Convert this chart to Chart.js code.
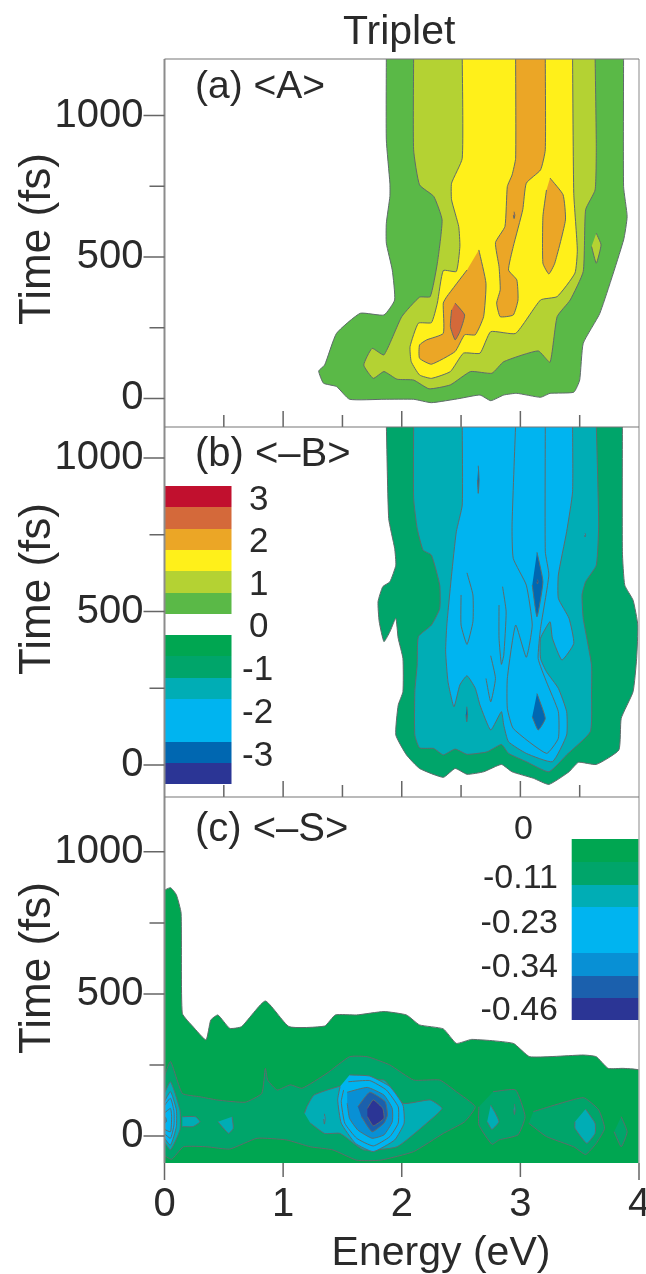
<!DOCTYPE html>
<html>
<head>
<meta charset="utf-8">
<title>Triplet</title>
<script src="https://cdn.jsdelivr.net/npm/chart.js@4/dist/chart.umd.min.js"></script>
<style>
    html, body { margin: 0; padding: 0; background: #fff; }
    canvas { position: absolute; left: 0; top: 0; }
</style>
</head>
<body>
<canvas id="panelA" width="646" height="1274"></canvas>
<canvas id="panelB" width="646" height="1274"></canvas>
<canvas id="panelC" width="646" height="1274"></canvas>
<script>
// Ticks (energy in eV, time in fs)
const energyTicks = [0, 0.5, 1, 1.5, 2, 2.5, 3, 3.5, 4];
const energyLabels = [0, 1, 2, 3, 4];
const timeTicks = [0, 250, 500, 750, 1000];
const timeLabels = [0, 500, 1000];

// Level values of the two colour bars
const levelsB = ['3', '2', '1', '0', '-1', '-2', '-3'];
const levelsC = ['0', '-0.11', '-0.23', '-0.34', '-0.46'];

// Colours per contour level
const warmColors = ['#c1102e', '#d4693a', '#eba626', '#fff01a', '#b4d233', '#5ab947'];
const coldColors = ['#00a651', '#00a56a', '#00adb5', '#00b4f0', '#00b4f0', '#0067b1', '#2b3595'];
const entropyColors = ['#00a651', '#00a56a', '#00adb5', '#00b4f0', '#00b4f0', '#0890d5', '#1b60ad', '#2b3595'];

// ---- (a) <A> contours, [energy, time] ----
const a0 = [[1.87,1210],[1.87,914],[1.9,761],[1.9,714],[1.87,619],[1.87,549],[1.92,454],[1.94,348],[1.85,295],[1.65,301],[1.45,230],[1.35,118],[1.3,97],[1.34,54],[1.45,42],[1.56,-3],[1.85,-3],[2.1,-3],[2.25,-15],[2.49,0],[2.66,12],[2.75,-8],[2.86,12],[2.97,18],[3.17,4],[3.25,18],[3.45,22],[3.5,65],[3.53,195],[3.67,301],[3.87,560],[3.9,643],[3.87,749],[3.87,1210]];
const a1 = [[2.1,1210],[2.1,879],[2.15,755],[2.27,714],[2.34,631],[2.3,478],[2.24,360],[2.15,358],[2,289],[1.85,154],[1.75,177],[1.68,118],[1.76,71],[1.85,95],[1.96,68],[2.1,65],[2.23,34],[2.41,48],[2.58,95],[2.76,89],[2.86,130],[3.15,168],[3.25,128],[3.31,289],[3.42,348],[3.53,449],[3.55,667],[3.63,737],[3.64,890],[3.63,1210]];
const a1Spot = [[3.64,584],[3.68,543],[3.64,478],[3.6,537]];
const a2 = [[2.51,1210],[2.51,849],[2.42,761],[2.42,702],[2.48,608],[2.49,537],[2.46,449],[2.35,452],[2.3,337],[2.25,268],[2.14,266],[2.07,183],[2.08,130],[2.15,83],[2.25,71],[2.41,95],[2.52,160],[2.66,160],[2.75,236],[2.96,230],[3.17,348],[3.31,360],[3.46,443],[3.48,525],[3.45,725],[3.44,1210]];
const a3Left = [[2.65,525],[2.71,407],[2.69,289],[2.62,225],[2.53,225],[2.45,166],[2.25,121],[2.15,142],[2.15,189],[2.21,207],[2.35,230],[2.35,337],[2.38,360],[2.55,454]];
const a3Mid = [[2.96,1210],[2.96,849],[2.93,790],[2.89,749],[2.87,608],[2.79,551],[2.82,466],[2.83,384],[2.8,337],[2.83,289],[2.94,295],[2.98,348],[2.97,419],[2.9,454],[2.94,537],[3.02,667],[3.05,761],[3.17,808],[3.21,879],[3.21,1210]];
const a3Right = [[3.25,779],[3.36,720],[3.38,631],[3.29,478],[3.24,440],[3.19,478],[3.19,643],[3.22,737]];
const a4 = [[2.45,337],[2.53,295],[2.49,236],[2.45,207],[2.41,254],[2.42,313]];
const a4Dot = [[2.947,660],[2.953,648],[2.947,636],[2.941,648]];

// ---- (b) <-B> contours ----
const b0 = [[1.87,1110],[1.89,803],[1.94,706],[1.95,651],[1.9,597],[1.84,581],[1.8,532],[1.81,467],[1.85,402],[1.9,434],[1.95,478],[1.97,413],[2.01,347],[2.01,239],[1.97,195],[1.95,98],[2.04,33],[2.15,-11],[2.35,-40],[2.45,-11],[2.55,-30],[2.69,-22],[2.84,2],[2.93,-22],[3.11,-43],[3.24,-63],[3.41,-22],[3.49,9],[3.64,2],[3.83,49],[3.85,152],[3.95,239],[3.98,347],[3.99,456],[3.95,537],[3.88,586],[3.86,695],[3.86,1110]];
const b1 = [[2.1,1110],[2.1,869],[2.13,771],[2.18,700],[2.25,684],[2.32,586],[2.32,510],[2.25,456],[2.14,418],[2.13,326],[2.11,239],[2.11,98],[2.15,56],[2.27,54],[2.35,33],[2.45,52],[2.55,35],[2.72,43],[2.84,67],[2.9,38],[3.05,11],[3.24,-22],[3.39,33],[3.59,109],[3.6,239],[3.6,326],[3.53,478],[3.52,554],[3.55,597],[3.64,651],[3.66,782],[3.64,1110]];
const b1Dot = [[3.545,755],[3.55,749],[3.545,743],[3.54,749]];
const b2 = [[2.51,1110],[2.51,847],[2.46,760],[2.42,619],[2.38,456],[2.37,369],[2.39,271],[2.44,190],[2.49,261],[2.55,291],[2.62,250],[2.66,195],[2.75,114],[2.84,174],[2.86,130],[2.9,76],[3.05,38],[3.27,11],[3.39,98],[3.39,174],[3.32,250],[3.22,304],[3.17,347],[3.17,413],[3.25,467],[3.27,413],[3.35,342],[3.45,396],[3.41,478],[3.32,543],[3.32,619],[3.39,760],[3.44,890],[3.44,1110]];
const b3 = [[2.96,1110],[2.93,782],[2.94,673],[3.05,586],[3.1,456],[3.05,351],[2.96,456],[2.89,282],[2.89,185],[2.94,119],[3.22,38],[3.32,87],[3.32,174],[3.22,271],[3.15,347],[3.17,445],[3.24,619],[3.21,695],[3.21,1110]];
const b3Oval = [[2.55,626],[2.6,554],[2.6,467],[2.55,393],[2.5,456],[2.5,554]];
const b3Thin = [[2.85,581],[2.88,499],[2.86,358],[2.84,328],[2.82,413],[2.82,521]];
const b3Low = [[2.75,356],[2.79,282],[2.75,206],[2.71,282]];
const b4Sliver = [[2.645,975],[2.652,928],[2.645,885],[2.638,928]];
const b4Nick = [[2.548,190],[2.555,165],[2.548,141],[2.541,165]];
const b4Upper = [[3.14,693],[3.19,597],[3.14,483],[3.1,586]];
const b4Lower = [[3.14,233],[3.21,152],[3.15,114],[3.1,157]];
const b5Dot = [[3.144,604],[3.149,597],[3.144,590],[3.139,597]];

// ---- (c) <-S> contours ----
const c0 = [[-0.03,-120],[-0.03,854],[0.05,874],[0.1,849],[0.14,784],[0.15,432],[0.24,385],[0.35,338],[0.39,408],[0.45,426],[0.55,379],[0.65,385],[0.85,475],[1.05,385],[1.35,387],[1.44,426],[1.62,426],[1.85,438],[2.04,426],[2.15,391],[2.35,377],[2.46,326],[2.59,340],[2.94,326],[3.08,279],[3.53,285],[3.64,279],[3.74,238],[3.87,238],[4.03,227],[4.03,-120]];
const c1 = [[-0.03,174],[0.05,262],[0.15,150],[0.3,138],[0.44,127],[0.68,119],[0.82,150],[0.85,238],[0.87,197],[0.95,162],[1.06,180],[1.16,168],[1.37,221],[1.56,279],[1.71,279],[1.9,250],[2.1,197],[2.32,197],[2.46,156],[2.62,103],[2.53,50],[2.35,9],[2.1,-55],[1.82,-85],[1.62,-85],[1.42,-49],[1.23,-38],[1.03,-14],[0.78,-8],[0.55,-46],[0.36,-38],[0.16,-38],[0.06,-82],[-0.03,-61]];
const c1Mid = [[2.77,156],[2.96,162],[3.04,68],[2.98,4],[2.82,-14],[2.76,-29],[2.65,39],[2.65,103]];
const c1Right = [[3.11,86],[3.53,135],[3.66,92],[3.71,27],[3.64,-26],[3.55,-65],[3.45,-38],[3.22,-2],[3.07,45]];
const c1Edge = [[3.85,68],[3.9,15],[3.85,-38],[3.79,15]];
const c2Left = [[-0.03,121],[0.05,191],[0.13,92],[0.13,21],[0.05,-49],[-0.03,-2]];
const c2Tail = [[0.15,68],[0.26,68],[0.3,50],[0.24,33],[0.15,33]];
const c2Diamond = [[0.57,68],[0.58,27],[0.54,9],[0.45,50]];
const c2Main = [[1.18,80],[1.2,103],[1.26,144],[1.47,174],[1.85,197],[2.01,115],[2.24,127],[2.34,97],[2.21,45],[1.96,-38],[1.68,-49],[1.48,9],[1.35,9],[1.23,45]];
const c2Mid = [[2.75,109],[2.79,80],[2.82,50],[2.76,23],[2.72,50]];
const c2Right = [[3.55,95],[3.63,45],[3.63,9],[3.56,-26],[3.46,27],[3.46,50]];
const c2Nick = [[1.348,78],[1.354,60],[1.348,42],[1.342,60]];
const c1Nick = [[2.95,112],[2.956,94],[2.95,76],[2.944,94]];
const c3Main = [[1.56,215],[1.73,211],[1.9,174],[2.01,109],[2.02,45],[1.94,-14],[1.76,-55],[1.61,-26],[1.49,45],[1.46,127],[1.48,174]];
const c3Left = [[-0.03,97],[0.05,156],[0.1,92],[0.1,33],[0.05,-32],[-0.03,9]];
const c4Main = [[1.55,191],[1.73,195],[1.87,162],[1.97,103],[1.97,45],[1.9,-2],[1.76,-35],[1.62,-8],[1.52,45],[1.49,121],[1.51,162]];
const c4Left = [[-0.03,90],[0.05,133],[0.08,86],[0.08,39],[0.05,-8],[-0.03,20]];
const c4Core = [[-0.03,70],[0.05,97],[0.06,68],[0.05,15],[-0.03,30]];
const c5Main = [[1.54,154],[1.71,171],[1.85,144],[1.92,97],[1.92,50],[1.85,4],[1.75,-8],[1.63,21],[1.56,62],[1.54,115]];
const c5Left = [[-0.03,78],[0.01,65],[0.015,50],[-0.03,35]];
const c6Main = [[1.63,103],[1.73,154],[1.86,121],[1.88,74],[1.85,45],[1.75,15],[1.66,68]];
const c7Main = [[1.71,97],[1.76,127],[1.84,97],[1.85,62],[1.76,36],[1.71,68]];

const TEXT_COLOR = '#2a2a2a';
const FONT = '"Liberation Sans", Arial, sans-serif';

// Draws frame, tick marks, colour bar and free text of one panel
const panelDecor = {
    id: 'panelDecor',
    afterDraw(chart, args, opts) {
        const { ctx, chartArea: area, scales } = chart;
        ctx.save();

        // colour bar
        (opts.bar ? opts.bar.bands : []).forEach(band => {
            const top = Math.round(band.top);
            ctx.fillStyle = band.color;
            ctx.fillRect(opts.bar.left, top, opts.bar.right - opts.bar.left, Math.round(band.bottom) - top);
        });

        // frame
        ctx.strokeStyle = '#b0b0b0';
        ctx.lineWidth = 1.5;
        ctx.beginPath();
        ctx.moveTo(area.right, area.top);
        ctx.lineTo(area.right, area.bottom);
        ctx.stroke();
        ctx.strokeStyle = '#8c8c8c';
        ctx.lineWidth = 2;
        ctx.beginPath();
        ctx.moveTo(area.left, area.bottom);
        ctx.lineTo(area.left, area.top);
        ctx.stroke();
        ctx.strokeStyle = '#777';
        ctx.lineWidth = 1.2;
        ctx.beginPath();
        ctx.moveTo(area.left, area.top);
        ctx.lineTo(area.right, area.top);
        ctx.stroke();

        // time ticks, outwards
        ctx.strokeStyle = '#666';
        ctx.lineWidth = 1.5;
        ctx.beginPath();
        timeTicks.forEach(v => {
            const y = scales.y.getPixelForValue(v);
            ctx.moveTo(area.left, y);
            ctx.lineTo(area.left - (timeLabels.includes(v) ? 21 : 15), y);
        });

        // energy ticks, inwards for (a)/(b), outwards under (c)
        if (opts.energyTicksOut) {
            energyLabels.forEach(v => {
                const x = scales.x.getPixelForValue(v);
                ctx.moveTo(x, area.bottom);
                ctx.lineTo(x, area.bottom + (v === 0 || v === 4 ? 17 : 14));
            });
        } else {
            energyTicks.slice(1, -1).forEach(v => {
                const x = scales.x.getPixelForValue(v);
                ctx.moveTo(x, area.bottom);
                ctx.lineTo(x, area.bottom - (energyLabels.includes(v) ? 16 : 12));
            });
        }
        ctx.stroke();

        // free text
        ctx.fillStyle = TEXT_COLOR;
        ctx.textBaseline = 'alphabetic';
        (opts.notes || []).forEach(n => {
            ctx.save();
            ctx.translate(n.x, n.y);
            if (n.rotate) ctx.rotate(-Math.PI / 2);
            ctx.font = n.size + 'px ' + FONT;
            ctx.textAlign = n.align || 'left';
            ctx.fillText(n.text, 0, 0);
            ctx.restore();
        });
        ctx.restore();
    }
};

function contour(points, color) {
    return {
        data: points.map(p => ({ x: p[0], y: p[1] })),
        showLine: true,
        fill: 'shape',
        backgroundColor: color,
        borderColor: '#5f6b6b',
        borderWidth: 1,
        pointRadius: 0,
        tension: 0.15
    };
}

function dibujarPanel(id, cfg) {
    // later contours sit on top of the earlier ones
    const datasets = cfg.contours.map((c, i) => ({ ...contour(c[0], c[1]), order: cfg.contours.length - i }));

    new Chart(document.getElementById(id), {
        type: 'scatter',
        data: { datasets },
        plugins: [panelDecor],
        options: {
            responsive: false,
            animation: false,
            events: [],
            layout: { padding: { left: 0, right: 7, top: cfg.top, bottom: 0 } },
            plugins: {
                legend: { display: false },
                tooltip: { enabled: false },
                panelDecor: cfg.decor
            },
            scales: {
                x: {
                    type: 'linear',
                    min: 0,
                    max: 4,
                    grid: { display: false, drawTicks: false },
                    border: { display: false },
                    afterBuildTicks: s => { s.ticks = energyLabels.map(value => ({ value })); },
                    afterFit: s => { s.height = 1274 - cfg.bottom; s.paddingLeft = 0; s.paddingRight = 0; },
                    ticks: {
                        display: !!cfg.energyLabels,
                        autoSkip: false,
                        maxRotation: 0,
                        padding: 18,
                        color: TEXT_COLOR,
                        font: { size: 40, family: FONT }
                    }
                },
                y: {
                    type: 'linear',
                    min: cfg.timeMin,
                    max: cfg.timeMax,
                    grid: { display: false, drawTicks: false },
                    border: { display: false },
                    afterBuildTicks: s => { s.ticks = timeLabels.map(value => ({ value })); },
                    afterFit: s => { s.width = 164.5; s.paddingTop = 0; s.paddingBottom = 0; },
                    ticks: {
                        autoSkip: false,
                        padding: 21,
                        color: TEXT_COLOR,
                        font: { size: 40, family: FONT },
                        callback: value => String(value)
                    }
                }
            }
        }
    });
}

// band tops and bottoms of the colour bars, in page pixels
const barBandsB = [
    [485.7, 507.3, warmColors[0]], [507.3, 529, warmColors[1]], [529, 550, warmColors[2]],
    [550, 571, warmColors[3]], [571, 592.7, warmColors[4]], [592.7, 613.7, warmColors[5]],
    [635, 656, coldColors[0]], [656, 677.7, coldColors[1]], [677.7, 699, coldColors[2]],
    [699, 741.7, coldColors[3]], [741.7, 763, coldColors[5]], [763, 784.3, coldColors[6]]
].map(b => ({ top: b[0], bottom: b[1], color: b[2] }));

const barBandsC = [
    [839, 862.3, entropyColors[0]], [862.3, 885, entropyColors[1]], [885, 907.3, entropyColors[2]],
    [907.3, 952.7, entropyColors[3]], [952.7, 975.7, entropyColors[5]], [975.7, 997.7, entropyColors[6]],
    [997.7, 1020.3, entropyColors[7]]
].map(b => ({ top: b[0], bottom: b[1], color: b[2] }));

dibujarPanel('panelA', {
    top: 59, bottom: 427, timeMin: -101, timeMax: 1200,
    contours: [
        [a0, warmColors[5]], [a1, warmColors[4]], [a1Spot, warmColors[4]], [a2, warmColors[3]],
        [a3Left, warmColors[2]], [a3Mid, warmColors[2]], [a3Right, warmColors[2]], [a4, warmColors[1]],
        [a4Dot, warmColors[1]]
    ],
    decor: {
        notes: [
            { text: 'Triplet', x: 343, y: 44, size: 41 },
            { text: '(a) <A>', x: 195, y: 98, size: 39 },
            { text: 'Time (fs)', x: 50, y: 239, size: 44, rotate: true, align: 'center' }
        ]
    }
});

dibujarPanel('panelB', {
    top: 427, bottom: 797, timeMin: -104, timeMax: 1101,
    contours: [
        [b0, coldColors[1]], [b1, coldColors[2]], [b1Dot, coldColors[3]], [b2, coldColors[3]], [b3, coldColors[4]],
        [b3Oval, coldColors[4]], [b3Thin, coldColors[4]], [b3Low, coldColors[4]],
        [b4Sliver, coldColors[5]], [b4Nick, coldColors[5]], [b4Upper, coldColors[5]], [b4Lower, coldColors[5]],
        [b5Dot, coldColors[6]]
    ],
    decor: {
        bar: { left: 164.5, right: 231.5, bands: barBandsB },
        notes: [
            { text: '(b) <\u2013B>', x: 195, y: 466, size: 40 },
            { text: 'Time (fs)', x: 50, y: 589, size: 44, rotate: true, align: 'center' },
            { text: levelsB[0], x: 249, y: 510, size: 35 },
            { text: levelsB[1], x: 249, y: 552, size: 35 },
            { text: levelsB[2], x: 249, y: 595, size: 35 },
            { text: levelsB[3], x: 249, y: 637, size: 35 },
            { text: levelsB[4], x: 242, y: 680, size: 35 },
            { text: levelsB[5], x: 242, y: 723, size: 35 },
            { text: levelsB[6], x: 242, y: 766, size: 35 }
        ]
    }
});

dibujarPanel('panelC', {
    top: 797, bottom: 1163, timeMin: -95, timeMax: 1193, energyLabels: true,
    contours: [
        [c0, entropyColors[0]], [c1, entropyColors[1]], [c1Mid, entropyColors[1]], [c1Right, entropyColors[1]],
        [c1Edge, entropyColors[1]], [c1Nick, entropyColors[2]], [c2Left, entropyColors[2]], [c2Tail, entropyColors[2]],
        [c2Diamond, entropyColors[2]], [c2Main, entropyColors[2]], [c2Mid, entropyColors[2]], [c2Right, entropyColors[2]],
        [c2Nick, entropyColors[3]], [c3Main, entropyColors[3]], [c3Left, entropyColors[3]], [c4Main, entropyColors[4]],
        [c4Left, entropyColors[4]], [c4Core, entropyColors[4]], [c5Main, entropyColors[5]], [c5Left, entropyColors[5]],
        [c6Main, entropyColors[6]], [c7Main, entropyColors[7]]
    ],
    decor: {
        energyTicksOut: true,
        bar: { left: 571.7, right: 639, bands: barBandsC },
        notes: [
            { text: '(c) <\u2013S>', x: 195, y: 841, size: 40 },
            { text: 'Time (fs)', x: 50, y: 968, size: 44, rotate: true, align: 'center' },
            { text: 'Energy (eV)', x: 441, y: 1265, size: 41, align: 'center' },
            { text: levelsC[0], x: 533, y: 839, size: 34, align: 'right' },
            { text: levelsC[1], x: 558, y: 888, size: 34, align: 'right' },
            { text: levelsC[2], x: 558, y: 933, size: 34, align: 'right' },
            { text: levelsC[3], x: 558, y: 977, size: 34, align: 'right' },
            { text: levelsC[4], x: 558, y: 1020, size: 34, align: 'right' }
        ]
    }
});
</script>
</body>
</html>
